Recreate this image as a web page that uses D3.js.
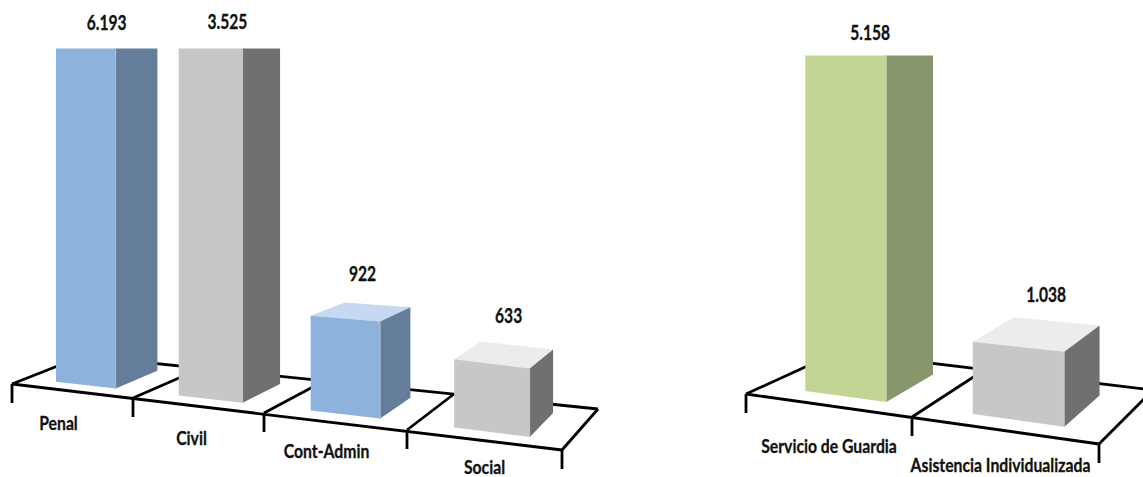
<!DOCTYPE html>
<html lang="es">
<head>
<meta charset="utf-8">
<title>Chart</title>
<script src="https://cdnjs.cloudflare.com/ajax/libs/d3/7.9.0/d3.min.js"></script>
<style>
html,body{margin:0;padding:0;background:#fff;overflow:hidden}
svg{display:block}
text{font-family:"Lato",sans-serif;font-weight:700;fill:#111;stroke:#111;stroke-width:.3px}
</style>
</head>
<body>
<svg id="chart" width="1143" height="477"></svg>
<script>
// ---- data ----
const jurisdictionCategories = ["Penal", "Civil", "Cont-Admin", "Social"];
const jurisdictionValues = [6193, 3525, 922, 633];
const serviceCategories = ["Servicio de Guardia", "Asistencia Individualizada"];
const serviceValues = [5158, 1038];

// ---- styles ----
const blue  = {front:"#8DB3DC", side:"#637D9B", top:"#C6D9F0"};
const gray  = {front:"#C6C7C9", side:"#6F7072", top:"#EBEDEC"};
const green = {front:"#C2D594", side:"#86976B", top:"#DCE8C4"};

// ---- layout of the two pseudo-3D floors ----
const panels = [
  {
    categories: jurisdictionCategories, values: jurisdictionValues,
    colors: [blue, gray, blue, gray],
    frontX: [12,133,264,407,562], frontY: [384,398,413,430,450],
    backX:  [83,202,324,454,598], backY:  [356,368,381,394,409],
    barU: [0.247, 0.742],
    pxPerThousand: 100, gainDomain: [2.26,3.26], gainRange: [1.03,1.08], ceiling: 48.5,
    labelDx: [0,-2,2,5], labelDy: [19,20,21,19],
    catDx: [-14,-7,-9,0], catBaseline: [430,445,458,474]
  },
  {
    categories: serviceCategories, values: serviceValues,
    colors: [green, gray],
    frontX: [746,912,1099], frontY: [394,417,444],
    backX:  [838,985,1153], backY:  [352,369.5,390],
    barU: [0.252, 0.752],
    pxPerThousand: 69.5, gainDomain: [1.24,1.74], gainRange: [1,1.04], ceiling: 55.5,
    labelDx: [1,10], labelDy: [16,15],
    catDx: [0,-5], catBaseline: [453,472]
  }
];

const barV = [0.20, 0.80];   // bar extent along the floor depth

const fmt = d3.formatLocale({decimal:",", thousands:".", grouping:[3], currency:["","€"]}).format(",d");
const svg = d3.select("#chart");

function label(parent, x, y, size, squeeze, str) {
  parent.append("text").attr("text-anchor", "middle").attr("font-size", size)
    .attr("transform", `translate(${x},${y}) scale(${squeeze},1)`)
    .text(str);
}

panels.forEach(p => {
  const ticks = d3.range(p.categories.length + 1);
  const fx = d3.scaleLinear().domain(ticks).range(p.frontX);
  const fy = d3.scaleLinear().domain(ticks).range(p.frontY);
  const bx = d3.scaleLinear().domain(ticks).range(p.backX);
  const by = d3.scaleLinear().domain(ticks).range(p.backY);
  const floor = (u, v) => [
    d3.interpolateNumber(fx(u), bx(u))(v),
    d3.interpolateNumber(fy(u), by(u))(v)
  ];
  const height = d3.scaleLinear().domain([0, 1000]).range([0, p.pxPerThousand]);
  const gain = d3.scaleLinear().domain(p.gainDomain).range(p.gainRange).clamp(true);
  const depth = d3.scaleLinear().domain(barV).range([1, 0.93]);
  const line = d3.line();

  const g = svg.append("g");

  // floor grid
  const last = ticks[ticks.length - 1];
  const floorG = g.append("g").attr("fill", "none").attr("stroke", "#000")
    .attr("stroke-width", 2.8).attr("stroke-linejoin", "miter");
  floorG.append("path").attr("d", line([floor(0,0), floor(last,0)]));
  floorG.append("path").attr("d", line([floor(0,1), floor(last,1)]));
  floorG.selectAll("path.rung").data(ticks).join("path").attr("class","rung")
    .attr("d", t => line([floor(t,0), floor(t,1)]));
  floorG.selectAll("path.tick").data(ticks).join("path").attr("class","tick")
    .attr("d", t => { const a = floor(t,0); return line([a, [a[0], a[1] + 19]]); });

  // bars
  p.values.forEach((value, i) => {
    const c = p.colors[i];
    const corner = (du, dv) => {
      const u = i + du, base = floor(u, dv);
      const h = height(value) * gain(u) * depth(dv);
      return {base, top: [base[0], Math.max(p.ceiling, base[1] - h)]};
    };
    const fl = corner(p.barU[0], barV[0]), fr = corner(p.barU[1], barV[0]);
    const bl = corner(p.barU[0], barV[1]), br = corner(p.barU[1], barV[1]);
    const bar = g.append("g");
    bar.append("path").attr("fill", c.top).attr("d", line([fl.top, fr.top, br.top, bl.top]) + "Z");
    // side reaches under the front face so no floor line shows through the seam
    bar.append("path").attr("fill", c.side)
      .attr("d", line([[fr.top[0] - 1, fr.top[1]], fr.top, br.top, br.base, fr.base, [fr.base[0] - 1, fr.base[1]]]) + "Z");
    bar.append("path").attr("fill", c.front).attr("d", line([fl.top, fr.top, fr.base, fl.base]) + "Z");
    bar.append("path").attr("fill", "none").attr("stroke", "#fff").attr("stroke-opacity", 0.35)
      .attr("stroke-width", 1).attr("d", line([fr.top, fr.base]));

    // value label
    label(g, (fl.top[0] + br.top[0]) / 2 + p.labelDx[i], bl.top[1] - p.labelDy[i], 20, 0.78, fmt(value));

    // category label
    const a = floor(i, 0), b = floor(i + 1, 0);
    label(g, (a[0] + b[0]) / 2 + p.catDx[i], p.catBaseline[i], 19, 0.83, p.categories[i]);
  });
});
</script>
</body>
</html>
